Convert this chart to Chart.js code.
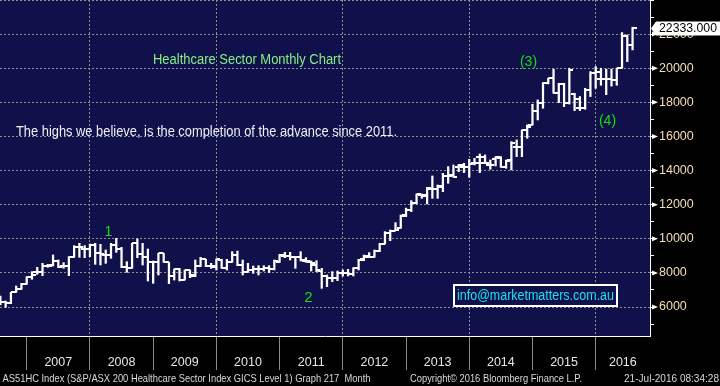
<!DOCTYPE html>
<html>
<head>
<meta charset="utf-8">
<script src="https://cdn.jsdelivr.net/npm/chart.js@4.4.0/dist/chart.umd.min.js"></script>
<style>
  html, body { margin: 0; padding: 0; background: #000; }
</style>
</head>
<body>
<canvas id="chart" width="720" height="386"></canvas>
<script>
// monthly bars, Jul 2006 - Jul 2016
const months = [
  'Jul-06','Aug-06','Sep-06','Oct-06','Nov-06','Dec-06',
  'Jan-07','Feb-07','Mar-07','Apr-07','May-07','Jun-07','Jul-07','Aug-07','Sep-07','Oct-07','Nov-07','Dec-07',
  'Jan-08','Feb-08','Mar-08','Apr-08','May-08','Jun-08','Jul-08','Aug-08','Sep-08','Oct-08','Nov-08','Dec-08',
  'Jan-09','Feb-09','Mar-09','Apr-09','May-09','Jun-09','Jul-09','Aug-09','Sep-09','Oct-09','Nov-09','Dec-09',
  'Jan-10','Feb-10','Mar-10','Apr-10','May-10','Jun-10','Jul-10','Aug-10','Sep-10','Oct-10','Nov-10','Dec-10',
  'Jan-11','Feb-11','Mar-11','Apr-11','May-11','Jun-11','Jul-11','Aug-11','Sep-11','Oct-11','Nov-11','Dec-11',
  'Jan-12','Feb-12','Mar-12','Apr-12','May-12','Jun-12','Jul-12','Aug-12','Sep-12','Oct-12','Nov-12','Dec-12',
  'Jan-13','Feb-13','Mar-13','Apr-13','May-13','Jun-13','Jul-13','Aug-13','Sep-13','Oct-13','Nov-13','Dec-13',
  'Jan-14','Feb-14','Mar-14','Apr-14','May-14','Jun-14','Jul-14','Aug-14','Sep-14','Oct-14','Nov-14','Dec-14',
  'Jan-15','Feb-15','Mar-15','Apr-15','May-15','Jun-15','Jul-15','Aug-15','Sep-15','Oct-15','Nov-15','Dec-15',
  'Jan-16','Feb-16','Mar-16','Apr-16','May-16','Jun-16','Jul-16'
];

const opens = [
  6410, 6313, 6254, 6899, 7036, 7349,
  7740, 8072, 8072, 8424, 8463, 8717, 8424, 8424, 8913, 9538, 9401, 9401,
  9636, 9147, 9050, 9050, 9636, 9401, 8365, 8268, 9734, 9089, 8913, 8619,
  8619, 9147, 8619, 7837, 8209, 7583, 8170, 7837, 8424, 8795, 8404, 8365,
  8776, 8268, 8619, 9050, 8463, 8072, 8170, 8209, 8209, 8268, 8209, 8659,
  9010, 9010, 8913, 8913, 8698, 8659, 8463, 8131, 7818, 7681, 7681, 7975,
  7975, 7935, 8268, 8796, 8952, 8952, 9284, 9695, 10320, 10477, 10614, 11400,
  11689, 12080, 12549, 12510, 12940, 12901, 13058, 13683, 13740, 14230, 14191, 14191,
  14426, 14778, 14460, 14328, 14660, 14719, 14230, 14622, 15365, 15365, 16381, 16700,
  17515, 17985, 19158, 19412, 18571, 19079, 17950, 18493, 17652, 17652, 18728, 19744,
  19350, 19350, 19350, 19300, 19998, 21895, 21367
];
const highs = [
  6645, 6352, 6860, 7231, 7388, 7779,
  8072, 8326, 8561, 8502, 9050, 8756, 8600, 8952, 9597, 9734, 9597, 9695,
  9734, 9675, 9343, 9734, 10027, 9499, 8659, 9734, 9988, 9734, 9401, 8698,
  9147, 9147, 8619, 8228, 8268, 8170, 8170, 8756, 8913, 8795, 8561, 8815,
  8800, 8795, 9245, 9284, 8756, 8561, 8404, 8424, 8424, 8424, 8756, 9089,
  9206, 9206, 8952, 9245, 8893, 8698, 8717, 8268, 7877, 8072, 8111, 8170,
  8209, 8307, 8796, 9050, 9187, 9343, 9734, 10418, 10516, 10946, 11396, 11800,
  12236, 12627, 12627, 13018, 13683, 13155, 13840, 14230, 14328, 14367, 14426, 14660,
  14719, 14973, 14915, 14621, 14817, 14817, 14621, 15695, 15795, 16381, 16675, 17887,
  18141, 19158, 19412, 19940, 19119, 19119, 20000, 18532, 18337, 18825, 19803, 20096,
  20000, 19950, 19950, 20000, 22090, 21953, 22403
];
const lows = [
  6117, 5980, 6195, 6860, 7036, 7329,
  7622, 7916, 7837, 8326, 8404, 8307, 8268, 7837, 8913, 8913, 8893, 8952,
  8502, 8463, 8561, 8854, 9206, 8307, 8033, 8268, 8893, 8463, 7525, 7388,
  7877, 8619, 7368, 7583, 7525, 7583, 7720, 7779, 8365, 8365, 8268, 8170,
  8268, 8170, 8619, 8424, 7877, 8050, 7974, 7877, 8111, 8013, 8170, 8619,
  8893, 8756, 8268, 8698, 8619, 8111, 8072, 7095, 7193, 7486, 7544, 7818,
  7818, 7818, 8170, 8717, 8913, 8913, 9245, 9695, 9890, 10477, 10614, 11300,
  11591, 12041, 12373, 12041, 12373, 12373, 12764, 13253, 13605, 13937, 13879, 13605,
  14328, 13879, 14426, 14074, 14269, 14191, 14133, 14035, 14818, 14818, 15893, 16675,
  16968, 17652, 19079, 18532, 17985, 17750, 17900, 17515, 17515, 17594, 18337, 18825,
  19000, 18450, 18950, 19000, 19998, 20389, 21074
];
const closes = [
  6313, 6254, 6860, 7036, 7349, 7740,
  7877, 8072, 8424, 8424, 8717, 8365, 8424, 8913, 9538, 9538, 9401, 9636,
  9147, 9089, 9050, 9636, 9401, 8365, 8268, 9734, 9089, 8913, 8619, 8619,
  9147, 8619, 7837, 8209, 7583, 8170, 7877, 8424, 8795, 8404, 8404, 8795,
  8268, 8619, 9050, 8463, 8072, 8170, 8209, 8209, 8268, 8209, 8698, 9050,
  9010, 8952, 8913, 8756, 8698, 8561, 8170, 7818, 7681, 7681, 7975, 7975,
  7935, 8268, 8757, 8991, 8952, 9284, 9695, 10320, 10477, 10516, 11337, 11689,
  12119, 12608, 12549, 12960, 12901, 13097, 13683, 13683, 13644, 14328, 14191, 14387,
  14426, 14817, 14430, 14328, 14778, 14230, 14582, 15600, 15365, 16381, 16577, 17515,
  17985, 19119, 19412, 18571, 19079, 17945, 19900, 18180, 17652, 18728, 19744, 19803,
  19350, 19350, 19300, 20000, 21895, 21367, 22333
];

const yearLabels = ['2007', '2008', '2009', '2010', '2011', '2012', '2013', '2014', '2015', '2016'];
const yTickLabels = [6000, 8000, 10000, 12000, 14000, 16000, 18000, 20000, 22000];

const NAVY = '#10104a';
const GRID = '#8e8e8e';
const FONT = "'Liberation Sans', Arial, sans-serif";
const X_MIN = -0.07, X_MAX = 123.31;

// year separators sit on the December bars
const sepIdx = [];
months.forEach((m, i) => { if (m.startsWith('Dec')) sepIdx.push(i); });
const labelPos = sepIdx.map((s, k) => k < sepIdx.length - 1 ? (s + sepIdx[k + 1]) / 2 : (s + X_MAX) / 2);
const xTicks = sepIdx.map(v => ({ value: v, sep: true }))
  .concat(labelPos.map((v, k) => ({ value: v, sep: false, text: yearLabels[k] })))
  .sort((a, b) => a.value - b.value);
const yAll = [];
for (let v = 5000; v <= 24000; v += 1000) yAll.push(v);

function tickImage(side) {
  const c = document.createElement('canvas');
  c.width = 8; c.height = 2;
  const g = c.getContext('2d');
  g.fillStyle = '#ffffff';
  g.fillRect(side === 'left' ? 0 : 4, 0, 4, 2);
  return c;
}

function drawFit(ctx, text, left, cy, width, size, color) {
  ctx.save();
  ctx.font = size + 'px ' + FONT;
  ctx.fillStyle = color;
  ctx.textBaseline = 'middle';
  ctx.textAlign = 'left';
  const w = ctx.measureText(text).width;
  ctx.translate(left, cy);
  ctx.scale(width / w, 1);
  ctx.fillText(text, 0, 0);
  ctx.restore();
}

function drawCentered(ctx, text, cx, cy, size, color) {
  ctx.save();
  ctx.font = size + 'px ' + FONT;
  ctx.fillStyle = color;
  ctx.textBaseline = 'middle';
  ctx.textAlign = 'center';
  ctx.fillText(text, cx, cy);
  ctx.restore();
}

const backdrop = {
  id: 'backdrop',
  beforeDraw(chart) {
    const { ctx, chartArea: a } = chart;
    ctx.save();
    ctx.fillStyle = '#000';
    ctx.fillRect(0, 0, chart.width, chart.height);
    ctx.fillStyle = NAVY;
    ctx.fillRect(a.left, a.top, a.right - a.left, a.bottom - a.top);
    ctx.restore();
  }
};

const overlay = {
  id: 'overlay',
  afterDraw(chart) {
    const { ctx, chartArea: a } = chart;
    const ys = chart.scales.y;

    // arrow heads on the labelled ticks
    ctx.save();
    ctx.fillStyle = '#fff';
    yTickLabels.forEach(v => {
      const y = ys.getPixelForValue(v);
      ctx.beginPath();
      ctx.moveTo(a.right + 2, y - 2.5);
      ctx.lineTo(a.right + 8, y);
      ctx.lineTo(a.right + 2, y + 2.5);
      ctx.closePath();
      ctx.fill();
    });
    ctx.restore();

    // last price tag
    const last = closes[closes.length - 1];
    const py = ys.getPixelForValue(last);
    ctx.save();
    ctx.fillStyle = '#fff';
    ctx.beginPath();
    ctx.moveTo(a.right + 1, py);
    ctx.lineTo(a.right + 6, py - 7);
    ctx.lineTo(chart.width, py - 7);
    ctx.lineTo(chart.width, py + 7);
    ctx.lineTo(a.right + 6, py + 7);
    ctx.closePath();
    ctx.fill();
    ctx.restore();
    drawFit(ctx, last.toFixed(3), 659, py, 58, 12.5, '#000');

    // annotations
    drawFit(ctx, 'Healthcare Sector Monthly Chart', 153, 60, 188, 14, '#86f086');
    drawFit(ctx, 'The highs we believe, is the completion of the advance since 2011.', 16, 132.5, 381, 14, '#f0f0f8');
    drawCentered(ctx, '1', 108.5, 232.5, 14, '#10e010');
    drawCentered(ctx, '2', 308.3, 298, 15, '#10e010');
    drawCentered(ctx, '(3)', 528.5, 62.2, 14, '#10e010');
    drawCentered(ctx, '(4)', 607.5, 121.2, 14, '#10e010');

    // contact box
    ctx.save();
    ctx.fillStyle = NAVY;
    ctx.fillRect(454, 285, 163, 21);
    ctx.strokeStyle = '#fff';
    ctx.lineWidth = 2;
    ctx.strokeRect(454, 285, 163, 21);
    ctx.restore();
    drawFit(ctx, 'info@marketmatters.com.au', 457, 296, 157, 14, '#18e0f0');

    // footer
    drawFit(ctx, 'AS51HC Index (S&P/ASX 200 Healthcare Sector Index GICS Level 1) Graph 217  Month', 2.5, 379, 368, 10.5, '#d8d8d8');
    drawFit(ctx, 'Copyright\u00a9 2016 Bloomberg Finance L.P.', 410, 379, 172, 10.5, '#d8d8d8');
    drawFit(ctx, '21-Jul-2016 08:34:28', 624, 379, 95, 10.5, '#d8d8d8');
  }
};

new Chart(document.getElementById('chart'), {
  type: 'bar',
  data: {
    datasets: [
      {
        type: 'scatter',
        label: 'Open',
        data: opens.map((v, i) => ({ x: i, y: v })),
        pointStyle: tickImage('left'),
        pointRadius: 3,
        pointHoverRadius: 3,
      },
      {
        type: 'scatter',
        label: 'Close',
        data: closes.map((v, i) => ({ x: i, y: v })),
        pointStyle: tickImage('right'),
        pointRadius: 3,
        pointHoverRadius: 3,
      },
      {
        type: 'bar',
        label: 'High-Low',
        data: lows.map((v, i) => ({ x: i, y: [v, highs[i]] })),
        backgroundColor: '#ffffff',
        borderWidth: 0,
        barThickness: 1.6,
      },
    ],
  },
  options: {
    responsive: false,
    animation: false,
    events: [],
    layout: { padding: 0, autoPadding: false },
    plugins: {
      legend: { display: false },
      tooltip: { enabled: false },
    },
    scales: {
      x: {
        type: 'linear',
        min: X_MIN,
        max: X_MAX,
        offset: false,
        afterBuildTicks: s => { s.ticks = xTicks.map(t => Object.assign({}, t)); },
        afterFit: s => { s.height = 50; s.paddingLeft = 0; s.paddingRight = 0; },
        grid: {
          offset: false,
          lineWidth: 1,
          tickLength: 34,
          color: c => (c.tick && c.tick.sep && (c.index % 4 === 2)) ? GRID : 'transparent',
          tickColor: c => (c.tick && c.tick.sep) ? '#8a8a8a' : 'transparent',
        },
        border: { color: '#ffffff', width: 1, dash: [2, 2] },
        ticks: {
          autoSkip: false,
          maxRotation: 0,
          padding: -15,
          color: '#e6e6e6',
          font: { family: FONT, size: 12.5 },
          callback: (v, i) => xTicks[i].sep ? '' : xTicks[i].text,
        },
      },
      y: {
        position: 'right',
        min: 4300,
        max: 24000,
        afterBuildTicks: s => { s.ticks = yAll.map(v => ({ value: v })); },
        afterFit: s => { s.width = 70; s.paddingTop = 0; s.paddingBottom = 0; },
        grid: {
          lineWidth: 1,
          tickLength: 4,
          color: c => (c.tick && c.tick.value % 2000 === 0) ? GRID : 'transparent',
          tickColor: '#ffffff',
        },
        border: { color: '#ffffff', width: 1, dash: [2, 2] },
        ticks: {
          autoSkip: false,
          padding: 5,
          color: '#f5dcb8',
          font: { family: FONT, size: 12.5 },
          callback: v => yTickLabels.includes(v) ? String(v) : '',
        },
      },
    },
  },
  plugins: [backdrop, overlay],
});
</script>
</body>
</html>
